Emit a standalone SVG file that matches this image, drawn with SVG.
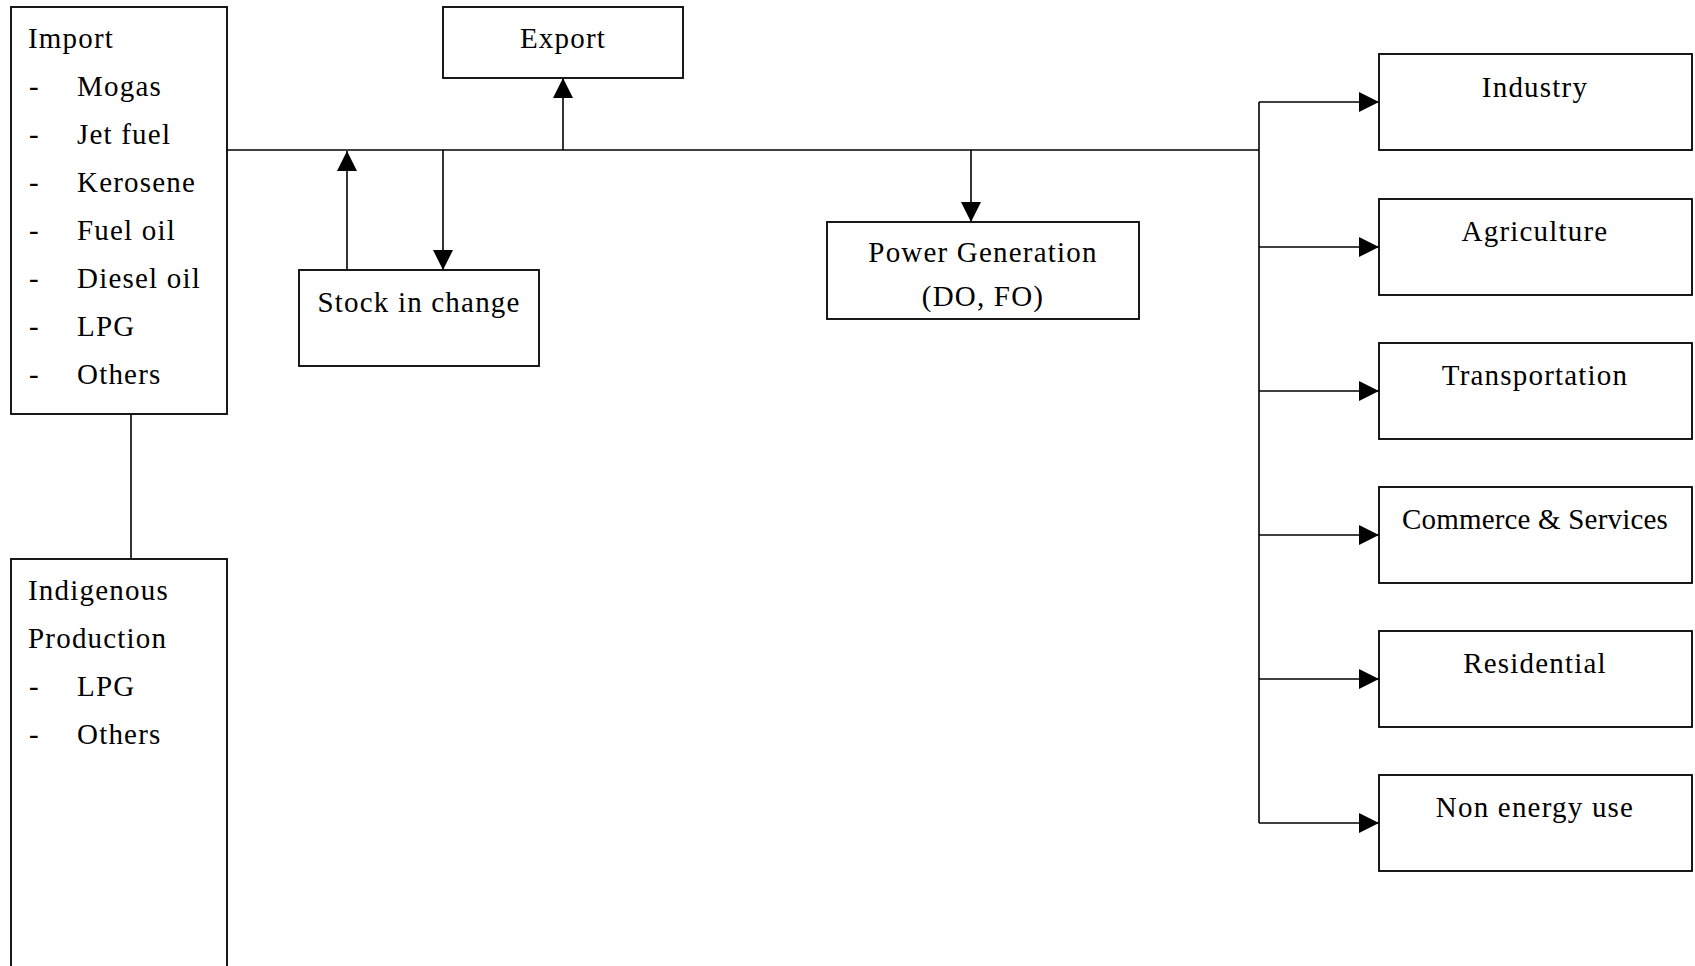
<svg xmlns="http://www.w3.org/2000/svg" width="1695" height="966" viewBox="0 0 1695 966">
<style>
.box{fill:#fff;stroke:#000;stroke-width:1.8}
.ln{fill:none;stroke:#000;stroke-width:1.6}
.t{font-family:"Liberation Serif","Times New Roman",serif;font-size:29px;letter-spacing:1.2px;fill:#000}
.c{text-anchor:middle}
</style>
<defs>
<marker id="ah" markerWidth="20" markerHeight="20" refX="20" refY="10" orient="auto" markerUnits="userSpaceOnUse">
<path d="M0,0 L20,10 L0,20 Z" fill="#000"/>
</marker>
</defs>
<rect width="1695" height="966" fill="#fff"/>
<g id="connectors">
<line class="ln" x1="227" y1="150" x2="1259" y2="150"/>
<line class="ln" x1="1259" y1="102" x2="1259" y2="823"/>
<line class="ln" x1="131" y1="414" x2="131" y2="559"/>
<line class="ln" x1="347" y1="270" x2="347" y2="151" marker-end="url(#ah)"/>
<line class="ln" x1="443" y1="150" x2="443" y2="270" marker-end="url(#ah)"/>
<line class="ln" x1="563" y1="150" x2="563" y2="78" marker-end="url(#ah)"/>
<line class="ln" x1="971" y1="150" x2="971" y2="222" marker-end="url(#ah)"/>
<line class="ln" x1="1259" y1="102" x2="1379" y2="102" marker-end="url(#ah)"/>
<line class="ln" x1="1259" y1="247" x2="1379" y2="247" marker-end="url(#ah)"/>
<line class="ln" x1="1259" y1="391" x2="1379" y2="391" marker-end="url(#ah)"/>
<line class="ln" x1="1259" y1="535" x2="1379" y2="535" marker-end="url(#ah)"/>
<line class="ln" x1="1259" y1="679" x2="1379" y2="679" marker-end="url(#ah)"/>
<line class="ln" x1="1259" y1="823" x2="1379" y2="823" marker-end="url(#ah)"/>
</g>
<g id="import">
<rect class="box" x="11" y="7" width="216" height="407"/>
<text class="t" x="28" y="48">Import</text>
<text class="t" x="29" y="96">-</text><text class="t" x="77" y="96">Mogas</text>
<text class="t" x="29" y="144">-</text><text class="t" x="77" y="144">Jet fuel</text>
<text class="t" x="29" y="192">-</text><text class="t" x="77" y="192">Kerosene</text>
<text class="t" x="29" y="240">-</text><text class="t" x="77" y="240">Fuel oil</text>
<text class="t" x="29" y="288">-</text><text class="t" x="77" y="288">Diesel oil</text>
<text class="t" x="29" y="336">-</text><text class="t" x="77" y="336">LPG</text>
<text class="t" x="29" y="384">-</text><text class="t" x="77" y="384">Others</text>
</g>
<g id="indigenous">
<rect class="box" x="11" y="559" width="216" height="430"/>
<text class="t" x="28" y="600">Indigenous</text>
<text class="t" x="28" y="648">Production</text>
<text class="t" x="29" y="696">-</text><text class="t" x="77" y="696">LPG</text>
<text class="t" x="29" y="744">-</text><text class="t" x="77" y="744">Others</text>
</g>
<g id="export">
<rect class="box" x="443" y="7" width="240" height="71"/>
<text class="t c" x="563" y="48">Export</text>
</g>
<g id="stock">
<rect class="box" x="299" y="270" width="240" height="96"/>
<text class="t c" x="419" y="312">Stock in change</text>
</g>
<g id="power">
<rect class="box" x="827" y="222" width="312" height="97"/>
<text class="t c" x="983" y="262">Power Generation</text>
<text class="t c" x="983" y="306">(DO, FO)</text>
</g>
<g id="industry">
<rect class="box" x="1379" y="54" width="313" height="96"/>
<text class="t c" x="1535" y="97">Industry</text>
</g>
<g id="agriculture">
<rect class="box" x="1379" y="199" width="313" height="96"/>
<text class="t c" x="1535" y="241">Agriculture</text>
</g>
<g id="transportation">
<rect class="box" x="1379" y="343" width="313" height="96"/>
<text class="t c" x="1535" y="385">Transportation</text>
</g>
<g id="commerce">
<rect class="box" x="1379" y="487" width="313" height="96"/>
<text class="t" x="1402" y="529" textLength="267" lengthAdjust="spacing">Commerce &amp; Services</text>
</g>
<g id="residential">
<rect class="box" x="1379" y="631" width="313" height="96"/>
<text class="t c" x="1535" y="673">Residential</text>
</g>
<g id="nonenergy">
<rect class="box" x="1379" y="775" width="313" height="96"/>
<text class="t c" x="1535" y="817">Non energy use</text>
</g>
</svg>
